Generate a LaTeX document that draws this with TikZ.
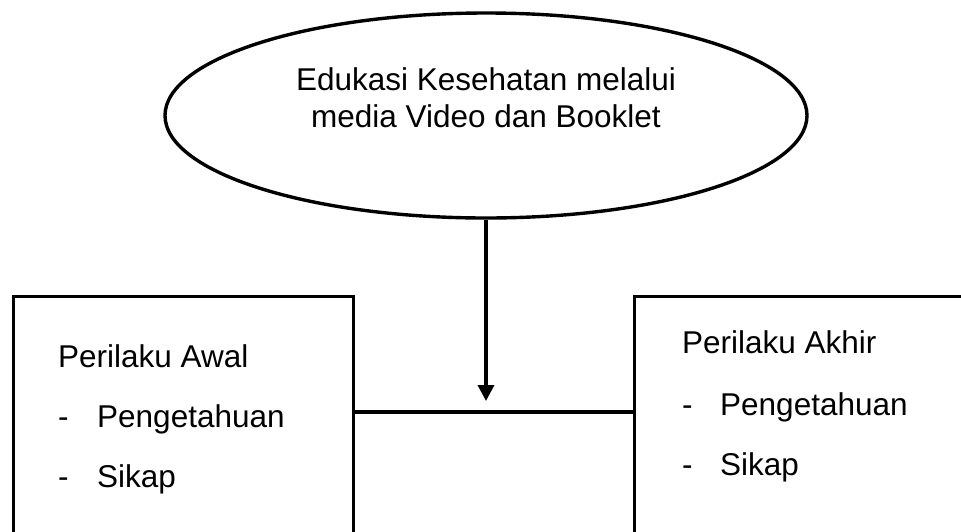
\documentclass[tikz,border=0pt]{standalone}
\usepackage{fontspec}
\setmainfont{Liberation Sans}
\usetikzlibrary{shapes.geometric,arrows.meta}
\begin{document}
\begin{tikzpicture}[x=1pt,y=-1pt,
  every node/.style={font=\fontsize{31.5}{37}\selectfont},
  line/.style={line width=3.4pt,draw=black},
  ell/.style={ellipse,line,inner sep=0pt,minimum width=642pt,minimum height=205pt},
  boxshape/.style={rectangle,line,inner sep=0pt,anchor=north west},
  txt/.style={inner sep=0pt,anchor=base west},
  ctxt/.style={inner sep=0pt,anchor=base}]
\useasboundingbox (0,0) rectangle (961,531);
\clip (0,0) rectangle (961,531);
% ellipse
\node[ell] (edu) at (486,115.5) {};
\node[ctxt] (edu1) at (486,90) {Edukasi Kesehatan melalui};
\node[ctxt] (edu2) at (486,127) {media Video dan Booklet};
% boxes
\node[boxshape,minimum width=340pt,minimum height=270pt] (awal) at (12,295) {};
\node[boxshape,minimum width=370pt,minimum height=270pt] (akhir) at (633,295) {};
% left texts
\node[txt] (awalT) at (58,367) {Perilaku Awal};
\node[txt] (awalD1) at (58,427) {-};
\node[txt] (awalP) at (97,427) {Pengetahuan};
\node[txt] (awalD2) at (58,487) {-};
\node[txt] (awalS) at (97,487) {Sikap};
% right texts
\node[txt] (akhirT) at (682,353) {Perilaku Akhir};
\node[txt] (akhirD1) at (682,415) {-};
\node[txt] (akhirP) at (720,415) {Pengetahuan};
\node[txt] (akhirD2) at (682,475) {-};
\node[txt] (akhirS) at (720,475) {Sikap};
% connectors
\coordinate (mid) at (486,412);
\coordinate (tip) at (486,401);
\draw[line] (awal.east |- mid) -- (akhir.west |- mid);
\draw[line,-{Triangle[length=16pt,width=16pt]}] (edu.south) -- (tip);
\end{tikzpicture}
\end{document}
